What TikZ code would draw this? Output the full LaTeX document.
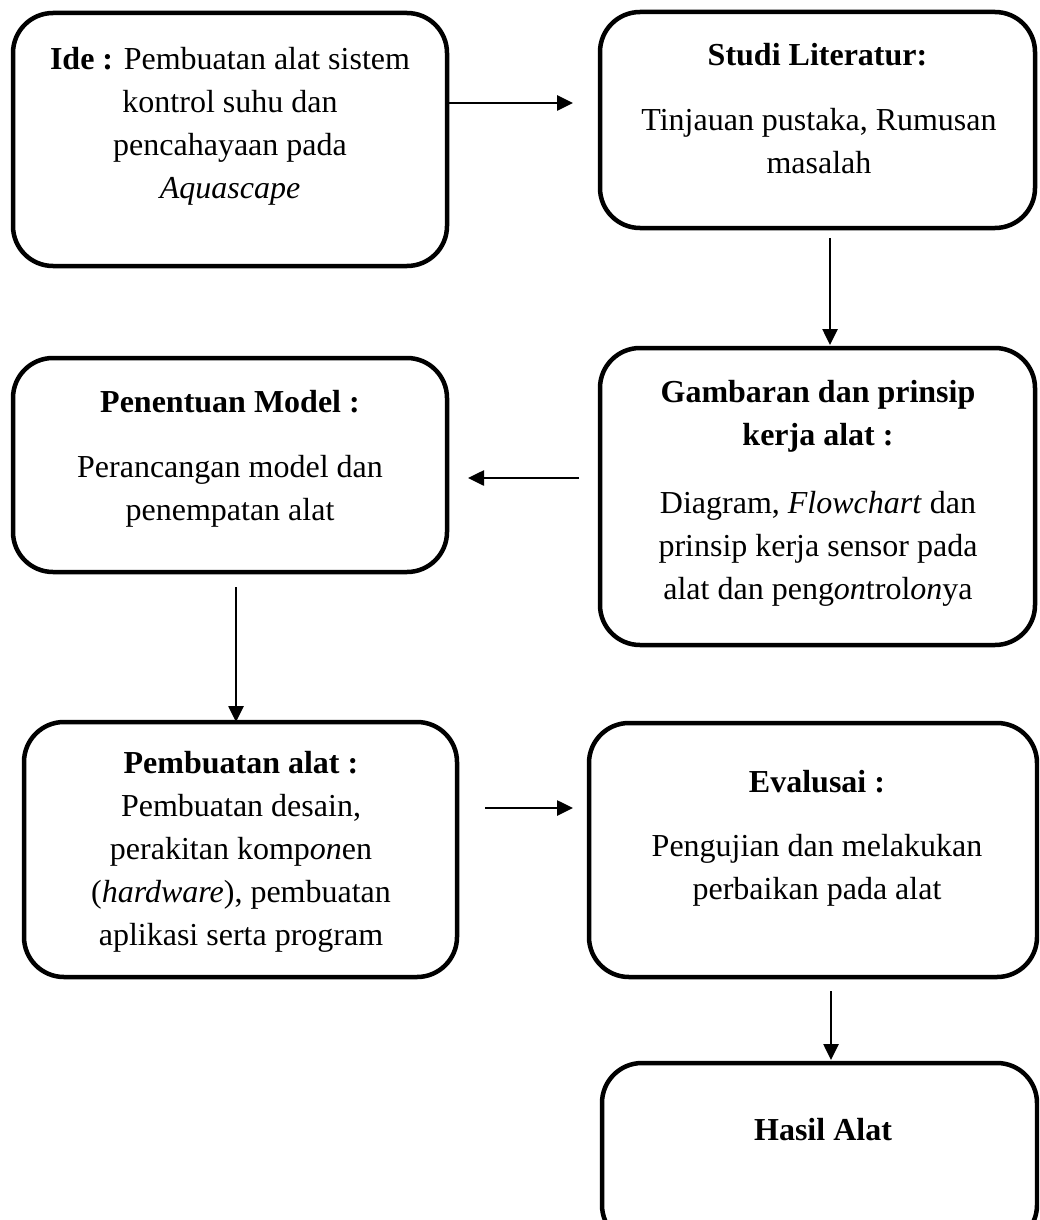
\documentclass[tikz,border=0pt]{standalone}
\usepackage{fontspec}
\setmainfont{Liberation Serif}
\usetikzlibrary{arrows.meta}
\begin{document}
\begin{tikzpicture}[x=1pt,y=-1pt,
  box/.style={draw, line width=4.5pt, rounded corners=40pt, inner sep=0pt, outer sep=0pt},
  txt/.style={align=center, font=\fontsize{32}{43}\selectfont, inner sep=0pt},
  arr/.style={-{Triangle[length=16pt,width=15pt]}, line width=2.6pt}]
\useasboundingbox (0,0) rectangle (1039,1220);
\clip (0,0) rectangle (1039,1220);
% boxes
\node[box, minimum width=434pt, minimum height=253pt] (ide)   at (230,139.5) {};
\node[box, minimum width=435pt, minimum height=216pt] (studi) at (817.5,120) {};
\node[box, minimum width=434pt, minimum height=214pt] (pen)   at (230,465) {};
\node[box, minimum width=435pt, minimum height=297pt] (gamb)  at (817.5,496.5) {};
\node[box, minimum width=433pt, minimum height=255pt] (pemb)  at (240.5,849.5) {};
\node[box, minimum width=448pt, minimum height=254pt] (eval)  at (813,850) {};
\node[box, minimum width=435pt, minimum height=182pt] (hasil) at (819.5,1154) {};
% texts
\node[txt] (ideT) at (230,126) {\textbf{Ide :} Pembuatan alat sistem\\kontrol suhu dan\\pencahayaan pada\\\textit{Aquascape}};
\node[txt] (studiH) at (817.5,55) {\textbf{Studi Literatur:}};
\node[txt] (studiB) at (819,141.5) {Tinjauan pustaka, Rumusan\\masalah};
\node[txt] (gambH) at (818,416.5) {\textbf{Gambaran dan prinsip}\\\textbf{kerja alat :}};
\node[txt] (gambB) at (818,548.5) {Diagram, \textit{Flowchart} dan\\prinsip kerja sensor pada\\alat dan peng\textit{on}trol\textit{on}ya};
\node[txt] (penH) at (230,402) {\textbf{Penentuan Model :}};
\node[txt] (penB) at (230,491.5) {Perancangan model dan\\penempatan alat};
\node[txt] (pembT) at (241,852) {\textbf{Pembuatan alat :}\\Pembuatan desain,\\perakitan komp\textit{on}en\\(\textit{hardware}), pembuatan\\aplikasi serta program};
\node[txt] (evalH) at (817,782) {\textbf{Evalusai :}};
\node[txt] (evalB) at (817,870.5) {Pengujian dan melakukan\\perbaikan pada alat};
\node[txt] (hasilT) at (823,1130) {\textbf{Hasil Alat}};
% connectors
\draw[arr, shorten >=27pt] (ide.east |- 0,103) -- (studi.west |- 0,103);
\draw[arr, shorten <=10pt, shorten >=3pt] (studi.south -| 830,0) -- (gamb.north -| 830,0);
\draw[arr, shorten <=21pt, shorten >=21pt] (gamb.west |- 0,478) -- (pen.east |- 0,478);
\draw[arr, shorten <=15pt] (pen.south -| 236,0) -- (pemb.north -| 236,0);
\draw[arr, shorten <=28pt, shorten >=16pt] (pemb.east |- 0,808) -- (eval.west |- 0,808);
\draw[arr, shorten <=14pt, shorten >=3pt] (eval.south -| 831,0) -- (hasil.north -| 831,0);
\end{tikzpicture}
\end{document}
